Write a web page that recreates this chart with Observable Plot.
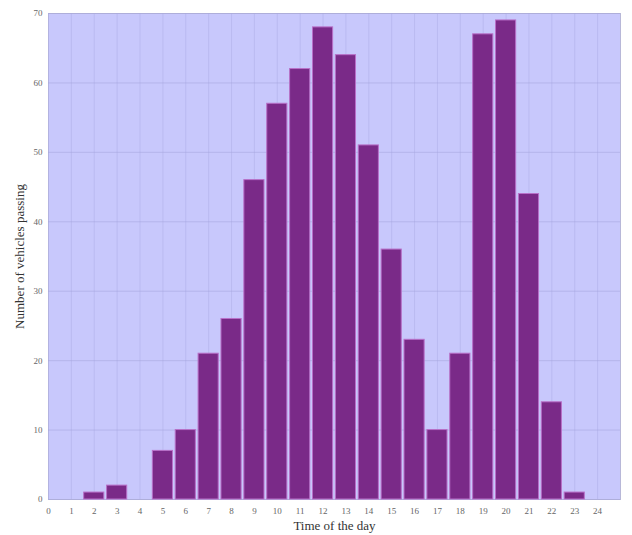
<!DOCTYPE html>
<html><head><meta charset="utf-8">
<script src="https://cdn.jsdelivr.net/npm/d3@7"></script>
<script src="https://cdn.jsdelivr.net/npm/@observablehq/plot@0.6"></script>
<style>body{margin:0;background:#fff}</style>
</head><body><div id="chart"></div>
<script>
const hours = [1,2,3,4,5,6,7,8,9,10,11,12,13,14,15,16,17,18,19,20,21,22,23,24];
const vehicles = [0,1,2,0,7,10,21,26,46,57,62,68,64,51,36,23,10,21,67,69,44,14,1,0];
const xTicks = d3.range(0, 25);
const yTicks = [0,10,20,30,40,50,60,70];
const data = hours.map((h, i) => ({hour: h, count: vehicles[i]}));
const halfWidth = 0.44;

const chart = Plot.plot({
  width: 632, height: 535,
  marginLeft: 48, marginRight: 12, marginTop: 13, marginBottom: 36,
  style: {fontFamily: "Liberation Serif, serif", background: "#fff"},
  x: {domain: [0, 25], ticks: xTicks, tickSize: 0, tickPadding: 8, label: "Time of the day", labelAnchor: "center", labelArrow: "none", labelOffset: 30},
  y: {domain: [0, 70], ticks: yTicks, tickSize: 0, tickPadding: 6, label: "Number of vehicles passing", labelAnchor: "center", labelArrow: "none", labelOffset: 34},
  marks: [
    Plot.frame({fill: "#c8c8fc", stroke: "#b8b8d8"}),
    Plot.gridX(xTicks, {stroke: "#aeaee8", strokeOpacity: 0.5}),
    Plot.gridY(yTicks, {stroke: "#a4a4dc", strokeOpacity: 0.5}),
    Plot.rectY(data, {x1: d => d.hour - halfWidth, x2: d => d.hour + halfWidth, y: "count", fill: "#7a2a88", stroke: "#b870c8", strokeWidth: 1}),
    Plot.axisX(xTicks, {tickSize: 0, tickPadding: 8, fontSize: 9, fill: "#666", label: "Time of the day", labelAnchor: "center", labelArrow: "none", labelOffset: 30}),
    Plot.axisY(yTicks, {tickSize: 0, tickPadding: 6, fontSize: 9, fill: "#666", label: "Number of vehicles passing", labelAnchor: "center", labelArrow: "none", labelOffset: 34})
  ]
});
chart.querySelectorAll('[aria-label="x-axis label"] text, [aria-label="y-axis label"] text').forEach(t => { t.setAttribute("font-size", "13"); t.setAttribute("fill", "#333"); });
document.getElementById("chart").append(chart);
</script></body></html>
